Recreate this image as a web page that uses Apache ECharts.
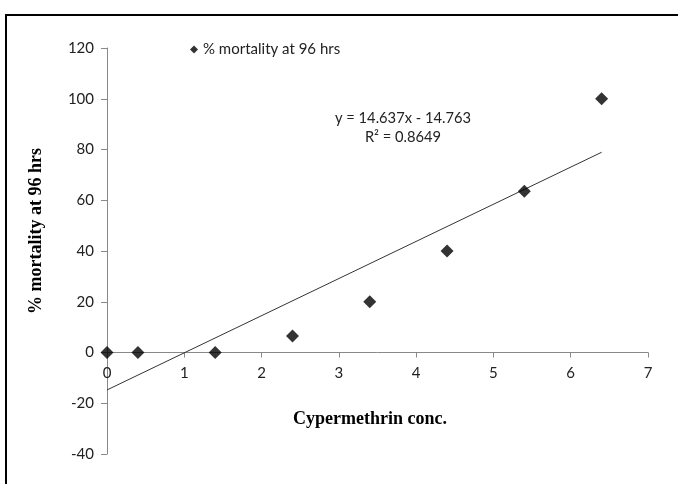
<!DOCTYPE html>
<html>
<head>
<meta charset="utf-8">
<script src="https://cdn.jsdelivr.net/npm/echarts@6/dist/echarts.min.js"></script>
<style>
  html, body { margin: 0; padding: 0; background: #fff; }
  #chart { width: 678px; height: 484px; }
</style>
</head>
<body>
<div id="chart"></div>
<script>
// concentrations and % mortality
const conc = [0, 0.4, 1.4, 2.4, 3.4, 4.4, 5.4, 6.4];
const mortality = [0, 0, 0, 6.5, 20, 40, 63.5, 100];
const xTicks = [0, 1, 2, 3, 4, 5, 6, 7];
const yTicks = [-40, -20, 0, 20, 40, 60, 80, 100, 120];

// linear trendline as printed on the chart
const slope = 14.637;
const intercept = -14.763;
const trendX = [conc[0], conc[conc.length - 1]];

const seriesName = '% mortality at 96 hrs';
const labelFont = 'Lato, "Open Sans", sans-serif';
const titleFont = '"Liberation Serif", "DejaVu Serif", serif';

const gridTop = 48;
const gridBottom = 30;
const plotH = 484 - gridTop - gridBottom;
const yMin = yTicks[0];
const yMax = yTicks[yTicks.length - 1];
// x axis crosses at y = 0: shift it up from the bottom of the grid
const xAxisShift = plotH * (0 - yMin) / (yMax - yMin);

const chart = echarts.init(document.getElementById('chart'));

const option = {
    animation: false,
    grid: { left: 107, right: 30, top: gridTop, bottom: gridBottom },
    legend: {
        data: [seriesName],
        left: 185,
        top: 37,
        icon: 'diamond',
        itemWidth: 8,
        itemHeight: 8,
        itemGap: 3,
        textStyle: { fontFamily: labelFont, fontSize: 15, color: '#222' }
    },
    xAxis: {
        type: 'value',
        min: xTicks[0],
        max: xTicks[xTicks.length - 1],
        interval: 1,
        offset: -xAxisShift,
        axisLine: { onZero: false, lineStyle: { color: '#888', width: 1 } },
        axisTick: { show: true, length: 5, lineStyle: { color: '#888' } },
        axisLabel: { margin: 13, fontFamily: labelFont, fontSize: 15, color: '#222' },
        splitLine: { show: false }
    },
    yAxis: {
        type: 'value',
        min: yMin,
        max: yMax,
        interval: 20,
        axisLine: { show: true, lineStyle: { color: '#888', width: 1 } },
        axisTick: { show: true, length: 6, lineStyle: { color: '#888' } },
        axisLabel: { margin: 13, fontFamily: labelFont, fontSize: 15, color: '#222' },
        splitLine: { show: false }
    },
    graphic: [
        {
            type: 'rect',
            shape: { x: 6, y: 15, width: 700, height: 500 },
            style: { fill: 'none', stroke: '#000', lineWidth: 2 },
            silent: true
        },
        {
            type: 'text',
            x: 36,
            y: 231,
            rotation: Math.PI / 2,
            style: {
                text: '% mortality at 96 hrs',
                font: 'bold 18px ' + titleFont,
                fill: '#000',
                textAlign: 'center',
                textVerticalAlign: 'middle'
            }
        },
        {
            type: 'text',
            x: 370,
            y: 419,
            style: {
                text: 'Cypermethrin conc.',
                font: 'bold 18px ' + titleFont,
                fill: '#000',
                textAlign: 'center',
                textVerticalAlign: 'middle'
            }
        },
        {
            type: 'text',
            x: 403,
            y: 128,
            style: {
                text: 'y = 14.637x - 14.763\nR² = 0.8649',
                font: '14.7px ' + labelFont,
                fill: '#222',
                lineHeight: 19,
                textAlign: 'center',
                textVerticalAlign: 'middle'
            }
        }
    ],
    series: [
        {
            name: 'trend',
            type: 'line',
            data: trendX.map(x => [x, slope * x + intercept]),
            symbol: 'none',
            lineStyle: { color: '#333', width: 1 },
            z: 2
        },
        {
            name: seriesName,
            type: 'scatter',
            data: conc.map((x, i) => [x, mortality[i]]),
            symbol: 'diamond',
            symbolSize: 13,
            itemStyle: { color: '#000' },
            z: 3
        }
    ]
};

chart.setOption(option);
</script>
</body>
</html>
